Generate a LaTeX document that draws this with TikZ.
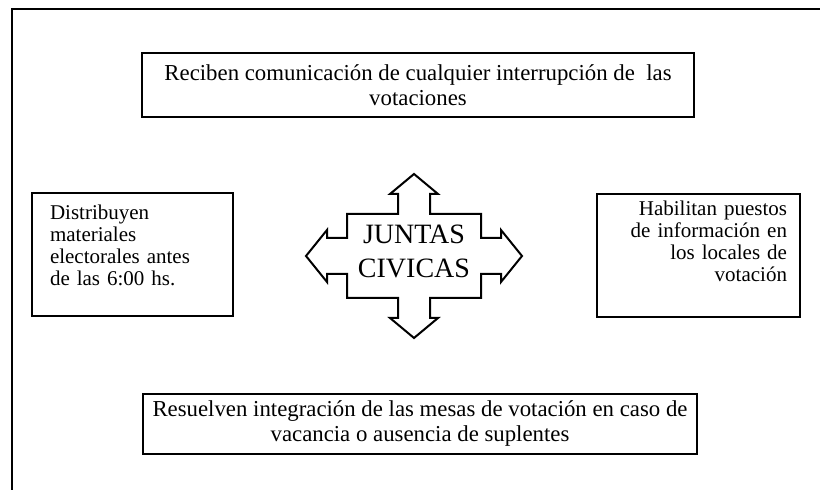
\documentclass[tikz,border=0pt]{standalone}
\usepackage{fontspec}
\setmainfont{Liberation Serif}

\tikzset{
  box/.style={draw, line width=1pt, inner sep=0pt},
  widebox/.style={box, align=center, font=\fontsize{11.4}{12.5}\selectfont},
  sidebox/.style={box, minimum height=61.5pt, text height=8pt, font=\fontsize{10.5}{10.85}\selectfont},
}

\begin{document}
\begin{tikzpicture}[x=0.5pt, y=-0.5pt]
\useasboundingbox (0,0) rectangle (820,490);

\draw[line width=1pt] (12,490) -- (12,9) -- (820,9);

\node[widebox, minimum width=276pt, minimum height=32pt] (reciben) at (418,85) {Reciben comunicación de cualquier interrupción de \ las\\votaciones};
\node[widebox, minimum width=277pt, minimum height=30pt] (resuelven) at (420,424) {Resuelven integración de las mesas de votación en caso de\\vacancia o ausencia de suplentes};

\node[sidebox, minimum width=100.5pt, text width=82.5pt, align=left, text depth=43pt] (distribuyen) at (132.5,255) {Distribuyen\\materiales\\electorales antes\\de las 6:00 hs.};
\node[sidebox, minimum width=101.5pt, text width=88.5pt, align=right, text depth=48pt] (habilitan) at (698.5,256) {Habilitan puestos\\de información en\\los locales de\\votación};

\draw[line width=1pt] (414,174) -- (438,194) -- (430,194) -- (430,214) -- (481,214) -- (481,238) -- (501,238) -- (501,230)
  -- (522,256) -- (501,282) -- (501,274) -- (481,274) -- (481,298) -- (430,298) -- (430,318) -- (438,318)
  -- (414,338) -- (390,318) -- (398,318) -- (398,298) -- (347,298) -- (347,274) -- (327,274) -- (327,282)
  -- (306,256) -- (327,230) -- (327,238) -- (347,238) -- (347,214) -- (398,214) -- (398,194) -- (390,194) -- cycle;
\node[align=center, font=\fontsize{14}{17}\selectfont] (juntas) at (414,251) {JUNTAS\\CIVICAS};

\end{tikzpicture}
\end{document}
